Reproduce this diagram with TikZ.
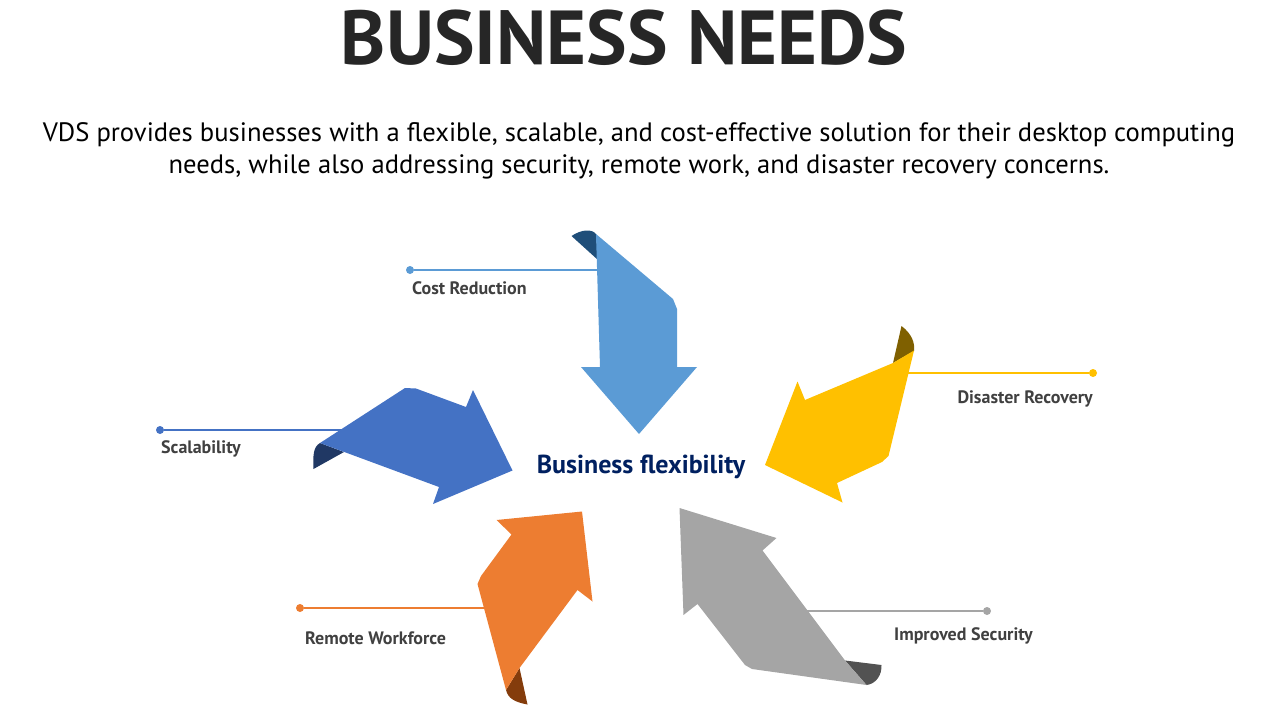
\documentclass[tikz,border=0pt]{standalone}
\usepackage{fontspec}
\setmainfont{PT Sans}
\usetikzlibrary{positioning}
\definecolor{costblue}{RGB}{91,155,213}
\definecolor{costdark}{RGB}{31,78,121}
\definecolor{scaleblue}{RGB}{68,114,196}
\definecolor{scaledark}{RGB}{32,56,100}
\definecolor{disyellow}{RGB}{255,192,0}
\definecolor{disdark}{RGB}{127,96,0}
\definecolor{remorange}{RGB}{237,125,49}
\definecolor{remdark}{RGB}{132,60,12}
\definecolor{secgray}{RGB}{165,165,165}
\definecolor{secdark}{RGB}{82,82,82}
\definecolor{labgray}{RGB}{64,64,64}
\definecolor{navy}{RGB}{0,32,96}
\definecolor{titlegray}{RGB}{38,38,38}
\begin{document}
\begin{tikzpicture}[x=1pt,y=-1pt,
  dot/.style={circle,fill,inner sep=0pt,minimum size=8pt},
  lab/.style={font=\fontsize{18}{20}\selectfont\bfseries,text=labgray,inner sep=0pt},
  lead/.style={line width=2pt}]
\useasboundingbox (0,0) rectangle (1280,720);
% heading
\path node[font=\fontsize{76.5}{80}\selectfont\bfseries,text=titlegray] (title) at (624,38) {BUSINESS NEEDS};
\path node[font=\fontsize{26.6}{32}\selectfont,align=center] (sub) at (639,151) {VDS provides businesses with a flexible, scalable, and cost-effective solution for their desktop computing\\needs, while also addressing security, remote work, and disaster recovery concerns.};
% dots and leader lines
\path node[dot,costblue] (costdot) at (410,270) {};
\path node[dot,scaleblue] (scaledot) at (160,430) {};
\path node[dot,remorange] (remdot) at (300,608) {};
\path node[dot,disyellow] (disdot) at (1093,373) {};
\path node[dot,secgray] (secdot) at (987,611) {};
\coordinate (costend) at (600,270);
\coordinate (scaleend) at (350,430);
\coordinate (remend) at (485,608);
\coordinate (disend) at (906,373);
\coordinate (secend) at (805,611);
\draw[lead,costblue] (costdot) -- (costend);
\draw[lead,scaleblue] (scaledot) -- (scaleend);
\draw[lead,remorange] (remdot) -- (remend);
\draw[lead,disyellow] (disdot) -- (disend);
\draw[lead,secgray] (secdot) -- (secend);
% arrows
\fill[costdark] (571.5,236) .. controls (582,229) and (592,229) .. (596,234) -- (598,260) -- cycle;
\fill[costblue] (596,234) -- (673,299) -- (677,309) -- (677,367) -- (697,367) -- (639,434) -- (581,367) -- (600,367) -- cycle;
\fill[scaledark] (320,443) .. controls (313,447) and (313,456) .. (313.5,469) -- (344,452) -- cycle;
\fill[scaleblue] (320,443) -- (405,388) -- (416,388.5) -- (466,407) -- (473,390) -- (512.5,470.5) -- (433,504) -- (439,487) -- cycle;
\fill[disdark] (901.5,326) .. controls (912,334) and (915,343) .. (914,351) -- (893,363) -- cycle;
\fill[disyellow] (914,350.5) -- (888.5,456) -- (882,462) -- (837,483) -- (842.5,502.5) -- (765,465) -- (797.5,381.5) -- (805,400) -- (893,363) -- cycle;
\fill[remdark] (506,690) .. controls (508,698) and (514,702) .. (527.5,704.5) -- (519.5,668) -- cycle;
\fill[remorange] (496.5,520) -- (582,511.5) -- (592.5,601.5) -- (577.5,590) -- (519.5,668) -- (506,690) -- (477.5,584) -- (481,576) -- (511.5,534.5) -- cycle;
\fill[secdark] (845,660.5) -- (881.5,665) .. controls (882,675) and (876,684) .. (866.5,685) -- cycle;
\fill[secgray] (679.5,508) -- (776.5,538) -- (762.5,550.5) -- (845,660.5) -- (866.5,685) -- (752,669) -- (745,665) -- (697.5,604) -- (683.5,615) -- cycle;
% labels
\path node[font=\fontsize{26}{28}\selectfont\bfseries,text=navy] (core) at (641,467) {Business flexibility};
\path node[lab,below right=11pt and 2pt of costdot.center] (cost) {Cost Reduction};
\path node[lab,below right=10pt and 1pt of scaledot.center] (scale) {Scalability};
\path node[lab,below right=24pt and 5pt of remdot.center] (rem) {Remote Workforce};
\path node[lab,below left=17pt and 0pt of disdot.center] (dis) {Disaster Recovery};
\path node[lab,below left=16pt and -46pt of secdot.center] (sec) {Improved Security};
\end{tikzpicture}
\end{document}
